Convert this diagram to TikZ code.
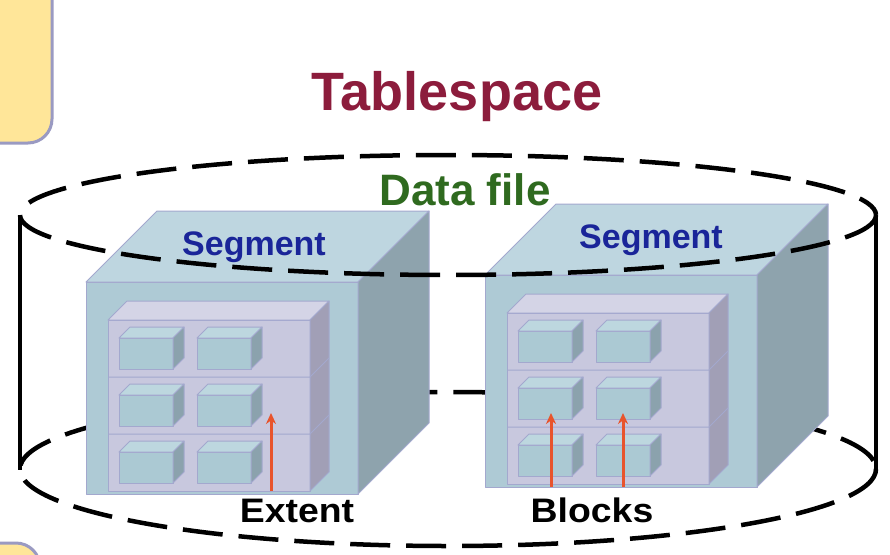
\documentclass[tikz,border=0pt]{standalone}
\usepackage{fontspec}
\setmainfont{Liberation Sans}
\usetikzlibrary{arrows.meta}
\definecolor{cubefront}{HTML}{AECAD5}
\definecolor{cubetop}{HTML}{BED6E0}
\definecolor{cubeside}{HTML}{8EA3AD}
\definecolor{edgec}{HTML}{A3A8CE}
\definecolor{innfront}{HTML}{C8C8DE}
\definecolor{inntop}{HTML}{D4D4E6}
\definecolor{innside}{HTML}{A19FB6}
\definecolor{blkfront}{HTML}{ABC9D3}
\definecolor{blktop}{HTML}{BDD7DF}
\definecolor{blkside}{HTML}{8BA2AD}
\definecolor{yelfill}{HTML}{FFE699}
\definecolor{yeledge}{HTML}{9A9AC2}
\definecolor{titlec}{HTML}{8C1C3C}
\definecolor{datac}{HTML}{2F6A1F}
\definecolor{segc}{HTML}{1A2599}
\definecolor{arrc}{HTML}{E8542C}
\tikzset{
  dashline/.style={line width=4.5pt, dash pattern=on 40pt off 16pt},
  solidline/.style={line width=4pt},
  edge/.style={draw=edgec, line width=1pt, line join=round},
  yelbox/.style={fill=yelfill, draw=yeledge, line width=3pt, rounded corners=24pt},
  redarrow/.style={draw=arrc, line width=3pt, -{Stealth[length=11pt,width=10pt]}},
  titletext/.style={font=\bfseries\fontsize{54}{60}\selectfont, text=titlec, anchor=base, inner sep=0pt},
  datatext/.style={font=\bfseries\fontsize{44}{50}\selectfont, text=datac, anchor=base, inner sep=0pt},
  segtext/.style={font=\bfseries\fontsize{34}{40}\selectfont, text=segc, anchor=base, inner sep=0pt},
  labtext/.style={font=\bfseries\fontsize{34}{40}\selectfont, text=black, anchor=base, inner sep=0pt, xscale=1.1},
}
% #1 x1, #2 y1, #3 x2, #4 y2, #5 depth, #6 front, #7 top, #8 side
\newcommand\cuboid[8]{%
  \path[edge, fill=#6] (#1,#2) rectangle (#3,#4);
  \path[edge, fill=#7] (#1,#2) -- ({#1+#5},{#2-#5}) -- ({#3+#5},{#2-#5}) -- (#3,#2) -- cycle;
  \path[edge, fill=#8] (#3,#2) -- ({#3+#5},{#2-#5}) -- ({#3+#5},{#4-#5}) -- (#3,#4) -- cycle;
}
% segment cube with front top-left corner (#1,#2)
\newcommand\segcube[2]{%
  \cuboid{#1}{#2}{#1+272}{#2+212}{71}{cubefront}{cubetop}{cubeside}
  \cuboid{#1+22}{#2+38}{#1+224}{#2+209}{19}{innfront}{inntop}{innside}
  \foreach \r in {1,2}{
    \path[edge] ({#1+22},{#2+38+57*\r}) -- ({#1+224},{#2+38+57*\r}) -- ({#1+243},{#2+19+57*\r});
  }
  \foreach \r in {0,1,2}{
    \cuboid{#1+33}{#2+56+57*\r}{#1+87}{#2+87+57*\r}{11}{blkfront}{blktop}{blkside}
    \cuboid{#1+111}{#2+56+57*\r}{#1+165}{#2+87+57*\r}{11}{blkfront}{blktop}{blkside}
  }
}
\begin{document}
\begin{tikzpicture}[x=1pt, y=-1pt]
  \useasboundingbox (0,0) rectangle (890,554);
  \clip (0,0) rectangle (890,554);
  % yellow boxes at the margins
  \path[yelbox] (-80,-30) rectangle (52,143);
  \path[yelbox] (-80,543) rectangle (40,640);
  % bottom ellipse (behind cubes) and sides
  \draw[dashline] (448,469) ellipse [x radius=428, y radius=77];
  \draw[solidline] (20,215) -- (20,470);
  \draw[solidline] (876,215) -- (876,472);
  % cubes
  \segcube{86}{282}
  \segcube{485}{275}
  % top ellipse (in front)
  \draw[dashline] (448,215) ellipse [x radius=428, y radius=60];
  % arrows
  \coordinate (ext0) at (271,491);
  \coordinate (ext1) at (271,413);
  \coordinate (blkA0) at (551,487);
  \coordinate (blkA1) at (551,413);
  \coordinate (blkB0) at (623,487);
  \coordinate (blkB1) at (623,413);
  \draw[redarrow] (ext0) -- (ext1);
  \draw[redarrow] (blkA0) -- (blkA1);
  \draw[redarrow] (blkB0) -- (blkB1);
  % texts
  \node[titletext] (title) at (457,110) {Tablespace};
  \node[datatext] (datafile) at (465,205) {Data file};
  \node[segtext] (segL) at (254,255) {Segment};
  \node[segtext] (segR) at (651,248) {Segment};
  \node[labtext] (extent) at (297,522) {Extent};
  \node[labtext] (blocks) at (592,522) {Blocks};
\end{tikzpicture}
\end{document}
